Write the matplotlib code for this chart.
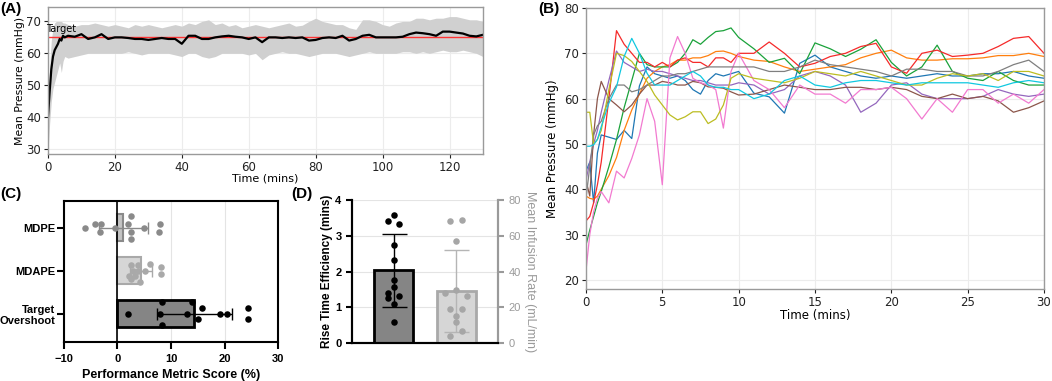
import numpy as np
import matplotlib.pyplot as plt

# ---------------- data ----------------
# (A) mean pressure over time, with spread band
t_a = [0, 0.5, 1, 1.5, 2, 2.5, 3, 3.5, 4, 4.5, 5] + list(range(6, 131, 2))
mean_a = [40, 48, 55, 59, 61, 62, 63, 64.5, 64, 65.5, 65,
          65.5, 65.2, 66, 64.5, 65, 66, 64.5, 65, 65, 64.8, 64.5, 64.5, 64.2, 64.5, 64.8, 64.5,
          64.5, 63, 65.5, 65.5, 64.5, 64.5, 65, 65.3, 65.5, 65.2, 65, 64.5, 65, 63.5, 65, 65,
          64.8, 65, 64.8, 65, 64, 64.2, 64.8, 65, 64.8, 65.5, 64, 64.5, 65.5, 65.8, 65, 65,
          65, 65, 65.2, 66, 66.5, 66.3, 66, 65.5, 66.8, 66.8, 66.5, 66.2, 65.5, 65.3, 65.8]
upper_a = [42, 56, 64, 68, 69.5, 70, 70, 70, 70, 69.5, 69.5,
           69, 68.5, 69, 69, 69.5, 69, 68.5, 69, 68.5, 68, 69, 68.5, 69, 68.5, 68, 68.5,
           69, 68.5, 69.5, 69, 70, 70.5, 69, 69.5, 68.5, 69, 68, 68.5, 69, 68.5, 68, 68.5,
           69, 69.5, 68.5, 68.8, 70, 71, 70, 69.5, 69, 69, 68, 67.5, 70.5, 70.5, 70, 69,
           68.5, 69.5, 70, 70, 71, 71, 70.5, 71, 71, 71.5, 71.5, 71, 70.5, 70.5, 70]
lower_a = [29, 38, 45, 49, 51, 53, 55, 57, 54, 57.5, 59,
           58.5, 59, 59.5, 60, 60, 60, 60, 60, 60, 60.5, 60, 59.5, 60, 60, 60, 60,
           59.5, 59, 60, 60, 59, 58.5, 59, 60, 60, 60, 60, 59.5, 60, 58, 59.5, 60,
           60.5, 60, 60, 59.5, 59, 59.5, 60, 60, 60, 59.5, 59, 59.5, 60, 60.5, 60, 60,
           60, 60, 60.5, 60.5, 60, 60.5, 60, 60.5, 61, 60.5, 60.5, 61, 60.5, 60, 59]
target = 65

# (B) individual runs, first 30 minutes
t_b = [0, 0.25, 0.5, 0.75, 1, 1.5, 2, 2.5, 3, 3.5, 4, 4.5, 5, 5.5, 6, 6.5, 7, 7.5, 8, 8.5,
       9, 9.5, 10] + list(range(11, 31))
run_blue = [44, 46, 37, 48, 52, 51.5, 51, 53, 51.2, 62.8, 67, 65.5, 65, 64.5, 65, 64, 62, 61,
            64, 65.5, 65, 65.5, 66, 61.2, 60.4, 56.8, 67.8, 69.6, 67, 66, 65, 64.5, 65, 64.5,
            65, 65.5, 65, 65, 65.5, 65.5, 66, 65, 64.5]
run_orange = [38.5, 38, 37.8, 38.5, 40, 43, 47, 53, 57.5, 61, 64.5, 66, 67, 67.5, 68.5, 68.5,
              69, 69, 69.5, 70.4, 70.5, 70, 69.3, 68.5, 68.2, 67, 66, 66.5, 67, 67.5, 69, 70,
              70.7, 69, 68.5, 68.5, 68.8, 68.8, 69, 69.5, 69.5, 70, 69.3]
run_green = [27.7, 31, 34, 37, 39.5, 45, 51, 58, 64, 70, 67.5, 67, 67, 67, 68, 70, 73, 72,
             73.5, 74.8, 75, 75.6, 73.5, 71, 68, 68.9, 65.5, 72.3, 71, 69.3, 70.9, 73, 68, 65,
             67, 71.8, 66, 64.5, 64, 66, 64, 63, 63]
run_red = [33, 34, 37, 41, 46, 60, 75, 72, 70, 68, 68, 67, 68, 67, 68.5, 69, 68, 68, 67, 69,
           69, 68, 70, 70, 72.5, 70, 67, 67.8, 69.3, 70, 71.5, 72.2, 67, 65.6, 70, 70.7, 69.3,
           69.6, 70, 71.5, 73.3, 73.7, 70]
run_purple = [42, 46, 50, 53, 57, 64, 70.5, 68, 67, 66, 66.5, 66, 66, 65.5, 65, 64.5, 64, 64,
              63.5, 63, 63, 63, 63.5, 63, 61, 62, 65, 66, 65, 63, 57, 59, 63, 63.5, 61, 60, 60,
              60, 60.5, 62, 61, 60.5, 61]
run_brown = [42, 38.5, 52, 60, 63.8, 60, 58.6, 57.1, 58.6, 61, 63, 63, 63.8, 63.5, 63, 63,
             63.8, 63.5, 62.6, 62.5, 62.3, 61.5, 60.8, 61, 62, 63, 62.5, 62, 62, 62.5, 62.5, 62,
             62.5, 62, 60.5, 60, 61, 60, 60.5, 59.5, 57, 58, 59.5]
run_pink = [22, 30, 35, 38, 39.5, 37, 44, 42.5, 46.8, 52, 60, 55, 41, 69, 73.7, 70, 64.5, 63.5,
            63, 62, 53.5, 66, 70, 64, 62, 58, 63, 61, 61, 59, 62, 62, 62.5, 60, 55.5, 60, 57,
            62, 62, 59, 61, 59, 62]
run_grey = [38, 45, 52, 54, 55, 60, 63, 63, 61.5, 62, 63, 64, 65, 65, 65.5, 65.5, 66, 66.5,
            67, 67, 67, 67, 67, 67, 66, 66, 67, 68.5, 67.5, 67, 66.5, 66, 65, 66.5, 66.5, 66,
            66, 65, 65, 66, 67.5, 68.5, 66]
run_olive = [57, 57, 50, 51, 53, 62, 70, 69.5, 68.2, 66, 63.8, 60.8, 58.6, 56.4, 55.3, 56,
             57.1, 57.1, 54.5, 55.5, 58.6, 64.5, 65.5, 64.5, 64, 63.5, 64.5, 66, 65.5, 65, 66,
             65, 64, 63, 63, 64.5, 65.5, 65, 65.5, 64, 66, 66, 65]
run_cyan = [49.5, 49.5, 49.8, 51, 53.8, 59, 62.6, 69.3, 73.3, 70, 65.6, 63, 63, 63, 64, 65, 66,
            65, 63, 62.5, 62.5, 62, 62, 60, 61, 64, 65, 63, 62.5, 63.5, 64, 64, 63.5, 63, 63.5,
            63.5, 63.5, 63.5, 63, 62.5, 63.5, 64, 63.5]

# (C) performance metrics
metrics = ["MDPE", "MDAPE", "Target\nOvershoot"]
mdpe = [-6.0, -4.2, -3.1, -3.2, -0.4, 2.5, 2.0, 2.5, 2.5, 5.0, 8.0, 7.8]
mdape = [2.5, 3.75, 6.0, 2.9, 3.8, 5.2, 8.2, 8.2, 2.1, 3.3, 4.2, 2.5]
overshoot = [1.9, 8.4, 8.0, 8.4, 12.9, 13.9, 15.7, 15.0, 19.1, 20.4, 24.4, 24.4]

# (D) rise time and infusion rate
rise_time = [3.58, 3.40, 3.32, 2.74, 2.33, 1.75, 1.58, 1.41, 1.32, 1.26, 1.08, 0.58]
rise_mean, rise_sd = 2.03, 1.01
infusion = [68.3, 68.8, 57.1, 27.9, 29.4, 26.4, 19.0, 19.0, 15.3, 11.5, 6.5, 3.7]
infusion_mean, infusion_sd = 29.3, 23.0

# ---------------- figure ----------------
fig = plt.figure(figsize=(10.52, 3.81), dpi=100)
SANS = "DejaVu Sans"
ARIAL = "Liberation Sans"
SPINE_GREY = "#9a9a9a"
GRID = "#ececec"


def light_frame(ax, size):
    for s in ax.spines.values():
        s.set_color(SPINE_GREY)
        s.set_linewidth(1.0)
    ax.grid(True, color=GRID, lw=0.8)
    ax.set_axisbelow(True)
    ax.tick_params(colors="#222222", labelsize=size, length=3, width=0.8, pad=2)
    for lab in ax.get_xticklabels() + ax.get_yticklabels():
        lab.set_family(SANS)


# (A)
ax_a = fig.add_axes([0.0456, 0.5958, 0.4135, 0.3858])
ax_a.fill_between(t_a, lower_a, upper_a, color="#d0d0d0", lw=0)
ax_a.axhline(target, color="#ff3333", lw=1.0)
ax_a.plot(t_a, mean_a, color="black", lw=1.6)
ax_a.text(-0.5, 66.6, "Target", fontsize=7, family=SANS, ha="left", va="baseline")
ax_a.set_xlim(0, 130)
ax_a.set_ylim(28.5, 74.5)
ax_a.set_xticks(range(0, 121, 20))
ax_a.set_yticks(range(30, 71, 10))
ax_a.set_xlabel("Time (mins)", fontsize=8, family=SANS, labelpad=0)
ax_a.set_ylabel("Mean Pressure (mmHg)", fontsize=7.8, family=SANS, labelpad=1)
light_frame(ax_a, 8.5)

# (B)
ax_b = fig.add_axes([0.557, 0.2415, 0.4354, 0.7375])
runs = [(run_blue, "#1f77b4"), (run_orange, "#ff7f0e"), (run_green, "#1aa23a"),
        (run_red, "#f52a2a"), (run_purple, "#9467bd"), (run_brown, "#8c564b"),
        (run_pink, "#f27ad0"), (run_grey, "#7f7f7f"), (run_olive, "#bcbd22"),
        (run_cyan, "#10c8e0")]
for vals, col in runs:
    ax_b.plot(t_b, vals, color=col, lw=0.9)
ax_b.set_xlim(0, 30)
ax_b.set_ylim(18, 80)
ax_b.set_xticks(range(0, 31, 5))
ax_b.set_yticks(range(20, 81, 10))
ax_b.set_xlabel("Time (mins)", fontsize=8.5, family=SANS, labelpad=0)
ax_b.set_ylabel("Mean Pressure (mmHg)", fontsize=8.5, family=SANS, labelpad=4)
light_frame(ax_b, 8.5)

# (C)
ax_c = fig.add_axes([0.0608, 0.1024, 0.2035, 0.37])
bar_fill = ["#c4c4c4", "#d6d6d6", "#858585"]
bar_edge = ["#8a8a8a", "#a9a9a9", "black"]
dot_col = ["#8a8a8a", "#a9a9a9", "black"]
offs_c = [[0, -0.09, -0.09, 0.09, 0, -0.27, -0.09, 0.09, 0.27, 0, -0.09, 0.09],
          [-0.14, -0.14, -0.16, 0, 0, 0, -0.09, 0.07, 0.13, 0.13, 0.26, 0.2],
          [0, -0.27, 0, 0.26, 0, -0.27, -0.13, 0.13, 0, 0, -0.13, 0.13]]
for i, vals in enumerate([mdpe, mdape, overshoot]):
    m, sd = np.mean(vals), np.std(vals, ddof=1)
    ax_c.barh(i, m, height=0.64, color=bar_fill[i], edgecolor=bar_edge[i],
              lw=2 if i == 2 else 1.5, zorder=2)
    ax_c.errorbar(m, i, xerr=sd, color=bar_edge[i], capsize=4, lw=1, capthick=1, zorder=3)
    ax_c.scatter(vals, np.array(offs_c[i]) + i, s=22, color=dot_col[i], lw=0, zorder=4)
ax_c.axvline(0, color="black", lw=1.2, zorder=2)
ax_c.set_xlim(-10, 30)
ax_c.set_ylim(2.66, -0.62)
ax_c.set_xticks(range(-10, 31, 10))
ax_c.set_yticks(range(3))
ax_c.set_yticklabels(metrics, multialignment="right")
ax_c.xaxis.grid(True, color="#e4e4e4", lw=0.8)
ax_c.set_axisbelow(True)
for s in ax_c.spines.values():
    s.set_linewidth(1.5)
ax_c.tick_params(labelsize=8, width=1.5, length=5)
ax_c.tick_params(axis="y", pad=1.5)
for lab in ax_c.get_xticklabels() + ax_c.get_yticklabels():
    lab.set_family(ARIAL)
    lab.set_weight("bold")
ax_c.set_xlabel("Performance Metric Score (%)", fontsize=9, family=ARIAL, weight="bold")

# (D)
ax_d = fig.add_axes([0.3346, 0.0997, 0.1388, 0.3753])
ax_d2 = ax_d.twinx()
ax_d.bar(0, rise_mean, width=0.63, color="#858585", edgecolor="black", lw=2, zorder=2)
ax_d.errorbar(0, rise_mean, yerr=rise_sd, color="black", capsize=9, lw=1, capthick=1, zorder=3)
offs_d1 = [0, -0.09, 0.09, 0, 0, 0, 0, -0.09, 0.09, -0.09, 0, 0]
ax_d.scatter(np.array(offs_d1), rise_time, s=22, color="black", lw=0, zorder=4)
ax_d2.bar(1, infusion_mean, width=0.63, color="#d6d6d6", edgecolor="#a9a9a9", lw=2, zorder=2)
ax_d2.errorbar(1, infusion_mean, yerr=infusion_sd, color="#b5b5b5", capsize=9, lw=1,
               capthick=1, zorder=3)
offs_d2 = [-0.1, 0.09, 0, -0.18, 0, 0.18, -0.1, 0.09, 0, 0, 0.09, -0.1]
ax_d2.scatter(1 + np.array(offs_d2), infusion, s=22, color="#a6a6a6", lw=0, zorder=4)
ax_d.set_xlim(-0.67, 1.67)
ax_d.set_ylim(0, 4)
ax_d2.set_ylim(0, 80)
ax_d.set_xticks([])
ax_d.set_yticks(range(5))
ax_d2.set_yticks(range(0, 81, 20))
ax_d.yaxis.grid(True, color="#e4e4e4", lw=0.8)
ax_d.set_axisbelow(True)
for a in (ax_d, ax_d2):
    a.spines["top"].set_visible(False)
    a.spines["left"].set_linewidth(1.5)
    a.spines["bottom"].set_linewidth(1.5)
    a.spines["right"].set_linewidth(1.5)
    a.spines["right"].set_color("#9a9a9a")
ax_d.tick_params(labelsize=8, width=1.5, length=4)
ax_d2.tick_params(labelsize=8, width=1.5, length=4, colors="#9a9a9a")
for lab in ax_d.get_yticklabels():
    lab.set_family(ARIAL)
    lab.set_weight("bold")
for lab in ax_d2.get_yticklabels():
    lab.set_family(ARIAL)
ax_d.set_ylabel("Rise Time Efficiency (mins)", fontsize=8.5, family=ARIAL, weight="bold",
                labelpad=2)
ax_d2.set_ylabel("Mean Infusion Rate (mL/min)", fontsize=9, family=ARIAL, color="#9a9a9a",
                 rotation=270, labelpad=11)

# panel letters
for x, y, s in [(0.0, 0.995, "(A)"), (0.512, 0.995, "(B)"),
                (0.0, 0.51, "(C)"), (0.277, 0.51, "(D)")]:
    fig.text(x, y, s, fontsize=11, weight="bold", family=ARIAL, ha="left", va="top")

fig.savefig("out.png", dpi=100)
